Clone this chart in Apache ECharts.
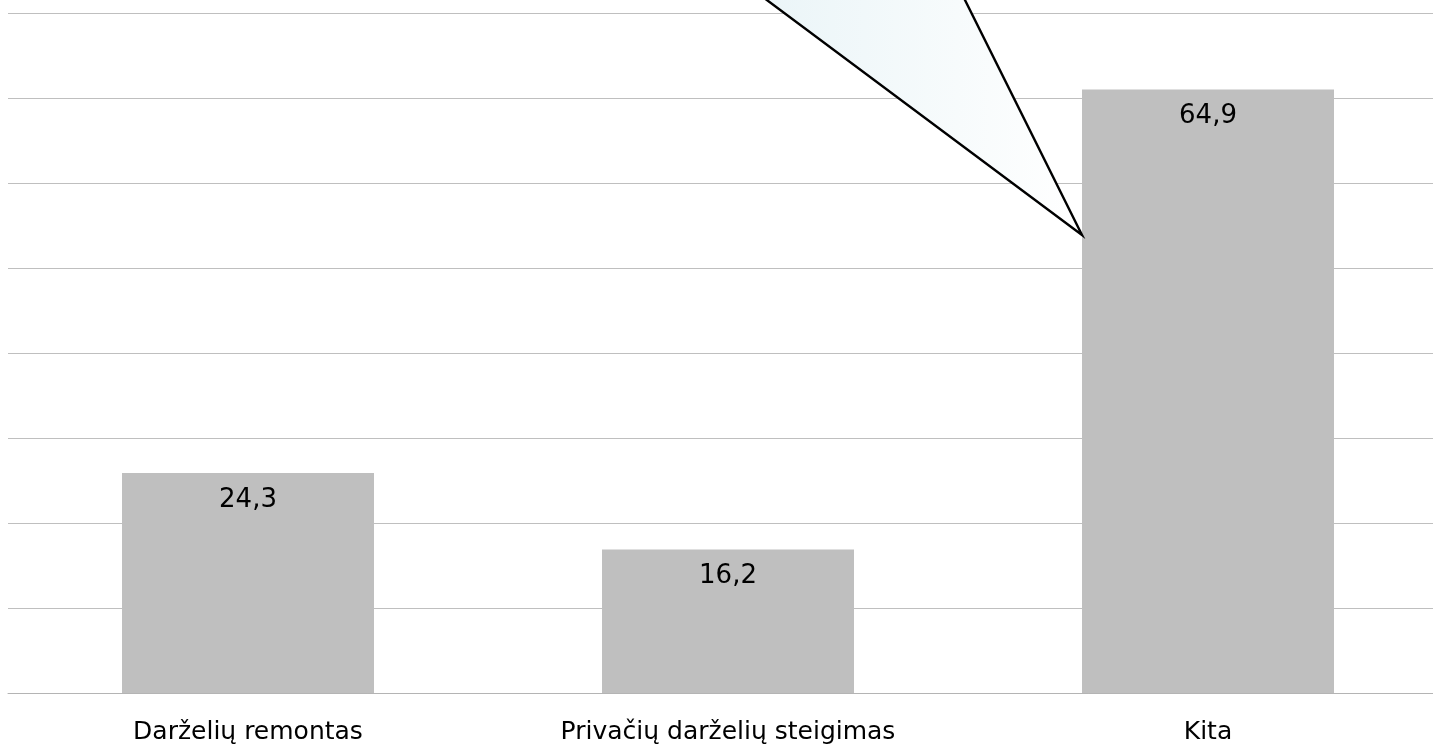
<!DOCTYPE html>
<html>
<head>
<meta charset="utf-8">
<script src="https://cdn.jsdelivr.net/npm/echarts@6/dist/echarts.min.js"></script>
<style>html,body{margin:0;padding:0;background:#fff;overflow:hidden;width:1433px;height:747px;}#c{width:1448px;height:747px;}</style>
</head>
<body>
<div id="c"></div>
<script>
const categories = ['Darželių remontas', 'Privačių darželių steigimas', 'Kita'];
const values = [24.3, 16.2, 64.9];
const valueLabels = ['24,3', '16,2', '64,9'];

const chart = echarts.init(document.getElementById('c'), null, {renderer: 'canvas'});
chart.setOption({
  animation: false,
  backgroundColor: '#ffffff',
  grid: {left: 8, right: 0, top: 13, bottom: 54, containLabel: false},
  xAxis: {
    type: 'category',
    data: categories,
    axisLine: {show: true, lineStyle: {color: '#b4b4b4', width: 1}},
    axisTick: {show: false},
    axisLabel: {color: '#000', fontFamily: '"DejaVu Sans"', fontSize: 25, margin: 27}
  },
  yAxis: [
    {type: 'value', min: 1, max: 73, axisLabel: {show: false}, axisLine: {show: false},
     axisTick: {show: false}, splitLine: {show: false}},
    {type: 'value', min: 0, max: 8, interval: 1, position: 'left', axisLabel: {show: false},
     axisLine: {show: false}, axisTick: {show: false},
     splitLine: {show: true, lineStyle: {color: '#bfbfbf', width: 1}}}
  ],
  series: [{
    type: 'bar',
    yAxisIndex: 0,
    data: values,
    barWidth: 252,
    itemStyle: {color: '#bfbfbf'},
    label: {
      show: true, position: 'insideTop', distance: 14,
      color: '#000', fontFamily: '"DejaVu Sans"', fontSize: 26,
      formatter: p => valueLabels[p.dataIndex]
    }
  }],
  graphic: [{
    type: 'polygon',
    z: 100,
    shape: {points: [[740, -20], [955, -20], [1082, 235]]},
    style: {
      fill: new echarts.graphic.LinearGradient(0, 0, 1, 0, [
        {offset: 0, color: '#e9f4f7'},
        {offset: 1, color: '#ffffff'}
      ]),
      stroke: '#000', lineWidth: 2.4
    }
  }]
});
</script>
</body>
</html>
